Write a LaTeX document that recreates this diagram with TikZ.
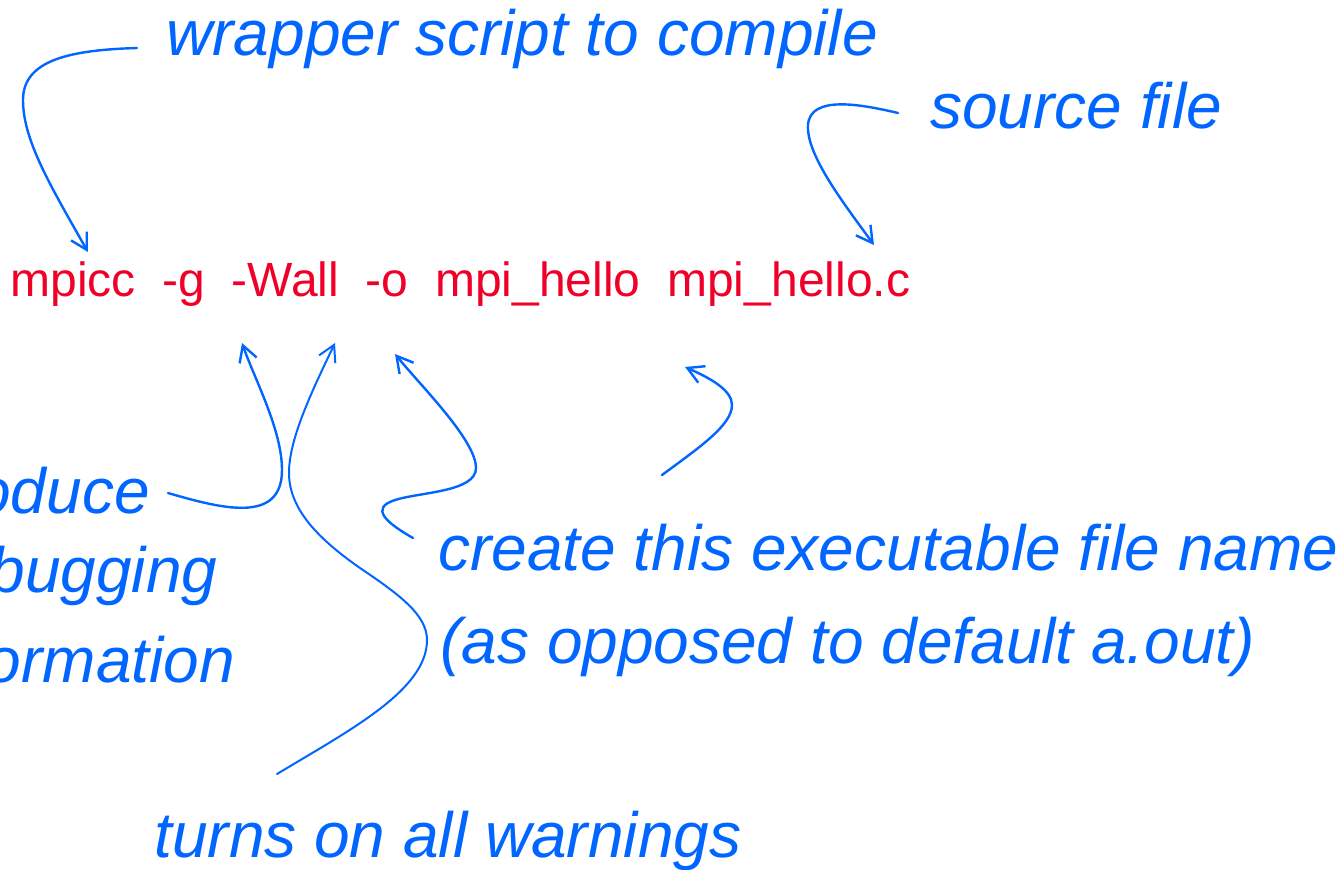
\documentclass[tikz,border=0pt]{standalone}
\usepackage{fontspec}
\setmainfont{Liberation Sans}
\usetikzlibrary{arrows.meta}
\definecolor{cmdred}{RGB}{240,0,40}
\definecolor{noteblue}{RGB}{0,102,255}
\tikzset{
  cmdtext/.style={anchor=base west,inner sep=0pt,text=cmdred,font=\fontsize{24}{28}\selectfont},
  notetext/.style={anchor=base west,inner sep=0pt,text=noteblue,font=\fontsize{32}{38}\selectfont\itshape},
  arr/.style={draw=noteblue,line width=1.2pt,line cap=round,-{Straight Barb[length=8pt,width=9pt]}},
  plainline/.style={draw=noteblue,line width=1.2pt,line cap=round}
}
\begin{document}
\begin{tikzpicture}[x=0.5pt,y=-0.5pt]
\useasboundingbox (0,0) rectangle (1344,869);
\clip (0,0) rectangle (1344,869);
\fill[white] (0,0) rectangle (1344,869);

% command line
\node[cmdtext] (cmd) at (10,296) {mpicc\ \ -g\ \ -Wall\ \ -o\ \ mpi\_hello\ \ mpi\_hello.c};

% notes
\node[notetext] (wrap) at (166,55) {wrapper script to compile};
\node[notetext] (src) at (930,128) {source file};
\node[notetext] (dbg1) at (-82,513) {produce};
\node[notetext] (dbg2) at (-82,592) {debugging};
\node[notetext] (dbg3) at (-82,682) {information};
\node[notetext] (out1) at (438,570) {create this executable file name};
\node[notetext] (out2) at (440,663) {(as opposed to default a.out)};
\node[notetext] (warn) at (154,857) {turns on all warnings};

% connector ends
\coordinate (wrapS) at (137,48);
\coordinate (wrapT) at (88,252);
\coordinate (srcS) at (898,113);
\coordinate (srcT) at (874,245);
\coordinate (gS) at (168,493);
\coordinate (gT) at (242,343);
\coordinate (wallS) at (277,774);
\coordinate (wallT) at (335,343);
\coordinate (oS) at (413,538);
\coordinate (oT) at (395,354);
\coordinate (hS) at (662,475);
\coordinate (hT) at (685,367);

% connectors
\draw[arr] (wrapS) .. controls (70,50) and (23,60) .. (23,100)
  .. controls (23,140) and (50,185) .. (wrapT);
\draw[arr] (srcS) .. controls (860,104) and (810,95) .. (808,125)
  .. controls (806,155) and (845,205) .. (srcT);
\draw[arr] (gS) .. controls (220,508) and (282,525) .. (282,470)
  .. controls (282,430) and (255,380) .. (gT);
\draw[arr,line width=1pt] (wallS) .. controls (350,730) and (427,690) .. (427,640)
  .. controls (427,615) and (400,595) .. (360,568)
  .. controls (320,540) and (289,510) .. (289,473)
  .. controls (289,440) and (310,395) .. (wallT);
\draw[arr] (oS) .. controls (385,522) and (370,508) .. (395,500)
  .. controls (420,492) and (476,492) .. (476,468)
  .. controls (476,440) and (420,385) .. (oT);
\draw[arr] (hS) .. controls (700,447) and (732,425) .. (732,405)
  .. controls (732,390) and (710,378) .. (hT);
\end{tikzpicture}
\end{document}
